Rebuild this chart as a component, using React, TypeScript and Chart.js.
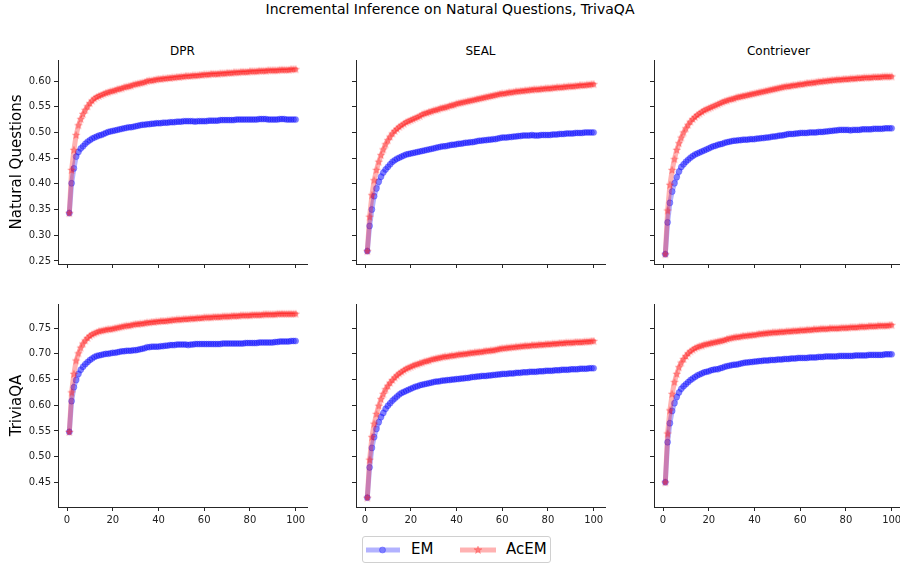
import React, { useEffect, useRef } from 'react';
import { Chart, registerables } from 'chart.js';

Chart.register(...registerables);

const FONT = "'DejaVu Sans', 'Liberation Sans', sans-serif";

const TITLE = 'Incremental Inference on Natural Questions, TrivaQA';
const ROW_LABELS = ['Natural Questions', 'TriviaQA'];
const COL_LABELS = ['DPR', 'SEAL', 'Contriever'];
const SERIES_LABELS = ['EM', 'AcEM'];

const STEPS = [
  1, 2, 3, 4, 5, 6, 7, 8, 9, 10,
  11, 12, 13, 14, 15, 16, 17, 18, 19, 20,
  21, 22, 23, 24, 25, 26, 27, 28, 29, 30,
  31, 32, 33, 34, 35, 36, 37, 38, 39, 40,
  41, 42, 43, 44, 45, 46, 47, 48, 49, 50,
  51, 52, 53, 54, 55, 56, 57, 58, 59, 60,
  61, 62, 63, 64, 65, 66, 67, 68, 69, 70,
  71, 72, 73, 74, 75, 76, 77, 78, 79, 80,
  81, 82, 83, 84, 85, 86, 87, 88, 89, 90,
  91, 92, 93, 94, 95, 96, 97, 98, 99, 100,
];

const X_TICKS = [0, 20, 40, 60, 80, 100];
const NQ_TICKS = [0.25, 0.3, 0.35, 0.4, 0.45, 0.5, 0.55, 0.6];
const TQ_TICKS = [0.45, 0.5, 0.55, 0.6, 0.65, 0.7, 0.75];

// ---- Natural Questions ----
const dprNqEM = [
  0.343, 0.401, 0.430, 0.453, 0.462, 0.469, 0.473, 0.478, 0.482, 0.485,
  0.488, 0.490, 0.492, 0.494, 0.495, 0.497, 0.499, 0.501, 0.502, 0.503,
  0.504, 0.505, 0.506, 0.507, 0.508, 0.509, 0.510, 0.510, 0.511, 0.512,
  0.513, 0.514, 0.515, 0.515, 0.516, 0.516, 0.517, 0.517, 0.518, 0.518,
  0.518, 0.519, 0.519, 0.519, 0.520, 0.520, 0.520, 0.521, 0.521, 0.521,
  0.522, 0.522, 0.522, 0.522, 0.522, 0.521, 0.522, 0.522, 0.522, 0.522,
  0.522, 0.523, 0.523, 0.523, 0.523, 0.523, 0.524, 0.524, 0.524, 0.524,
  0.524, 0.524, 0.524, 0.525, 0.525, 0.525, 0.525, 0.525, 0.525, 0.525,
  0.525, 0.525, 0.525, 0.526, 0.526, 0.526, 0.526, 0.525, 0.525, 0.525,
  0.525, 0.525, 0.526, 0.526, 0.526, 0.525, 0.525, 0.525, 0.525, 0.525,
];
const dprNqAcEM = [
  0.343, 0.427, 0.466, 0.495, 0.514, 0.526, 0.536, 0.544, 0.551, 0.557,
  0.562, 0.566, 0.569, 0.571, 0.573, 0.575, 0.577, 0.578, 0.580, 0.581,
  0.582, 0.584, 0.585, 0.586, 0.588, 0.589, 0.590, 0.591, 0.593, 0.594,
  0.595, 0.596, 0.597, 0.598, 0.600, 0.601, 0.601, 0.602, 0.603, 0.604,
  0.604, 0.605, 0.605, 0.606, 0.606, 0.607, 0.607, 0.608, 0.608, 0.609,
  0.609, 0.610, 0.610, 0.610, 0.611, 0.611, 0.611, 0.612, 0.612, 0.613,
  0.613, 0.613, 0.614, 0.614, 0.614, 0.614, 0.615, 0.615, 0.615, 0.616,
  0.616, 0.616, 0.617, 0.617, 0.617, 0.618, 0.618, 0.618, 0.618, 0.619,
  0.619, 0.619, 0.619, 0.620, 0.620, 0.620, 0.620, 0.621, 0.621, 0.621,
  0.621, 0.621, 0.622, 0.622, 0.622, 0.622, 0.622, 0.623, 0.623, 0.623,
];
const sealNqEM = [
  0.269, 0.318, 0.350, 0.376, 0.391, 0.404, 0.414, 0.422, 0.428, 0.433,
  0.438, 0.443, 0.446, 0.449, 0.451, 0.453, 0.455, 0.457, 0.458, 0.459,
  0.460, 0.461, 0.462, 0.463, 0.464, 0.465, 0.466, 0.467, 0.468, 0.469,
  0.470, 0.471, 0.472, 0.473, 0.473, 0.474, 0.475, 0.476, 0.476, 0.477,
  0.478, 0.478, 0.479, 0.480, 0.480, 0.481, 0.481, 0.482, 0.483, 0.484,
  0.484, 0.485, 0.485, 0.486, 0.486, 0.487, 0.487, 0.488, 0.489, 0.490,
  0.490, 0.490, 0.491, 0.491, 0.492, 0.492, 0.493, 0.493, 0.494, 0.494,
  0.494, 0.494, 0.495, 0.494, 0.494, 0.494, 0.495, 0.495, 0.495, 0.495,
  0.495, 0.496, 0.496, 0.496, 0.497, 0.497, 0.497, 0.498, 0.498, 0.498,
  0.498, 0.499, 0.499, 0.499, 0.499, 0.500, 0.500, 0.500, 0.500, 0.500,
];
const sealNqAcEM = [
  0.269, 0.336, 0.378, 0.407, 0.427, 0.443, 0.456, 0.467, 0.477, 0.485,
  0.492, 0.498, 0.503, 0.507, 0.511, 0.514, 0.517, 0.520, 0.522, 0.524,
  0.526, 0.528, 0.530, 0.532, 0.535, 0.537, 0.538, 0.540, 0.541, 0.543,
  0.544, 0.545, 0.547, 0.548, 0.549, 0.550, 0.552, 0.553, 0.554, 0.556,
  0.557, 0.558, 0.559, 0.560, 0.561, 0.562, 0.563, 0.564, 0.565, 0.566,
  0.567, 0.568, 0.569, 0.570, 0.571, 0.572, 0.573, 0.574, 0.575, 0.576,
  0.576, 0.577, 0.578, 0.578, 0.579, 0.580, 0.580, 0.581, 0.581, 0.582,
  0.582, 0.583, 0.583, 0.584, 0.584, 0.584, 0.585, 0.585, 0.586, 0.586,
  0.586, 0.587, 0.587, 0.588, 0.588, 0.588, 0.589, 0.589, 0.590, 0.590,
  0.590, 0.591, 0.591, 0.592, 0.592, 0.592, 0.593, 0.593, 0.594, 0.594,
];
const contrieverNqEM = [
  0.263, 0.325, 0.363, 0.385, 0.401, 0.413, 0.424, 0.433, 0.438, 0.443,
  0.447, 0.451, 0.454, 0.457, 0.459, 0.461, 0.463, 0.465, 0.467, 0.469,
  0.471, 0.473, 0.474, 0.476, 0.477, 0.478, 0.480, 0.481, 0.482, 0.483,
  0.484, 0.484, 0.485, 0.485, 0.486, 0.486, 0.486, 0.487, 0.487, 0.487,
  0.488, 0.488, 0.489, 0.489, 0.490, 0.490, 0.491, 0.492, 0.492, 0.493,
  0.494, 0.494, 0.495, 0.496, 0.497, 0.497, 0.497, 0.498, 0.498, 0.499,
  0.499, 0.499, 0.499, 0.500, 0.500, 0.500, 0.500, 0.501, 0.501, 0.501,
  0.502, 0.502, 0.503, 0.503, 0.504, 0.504, 0.505, 0.505, 0.505, 0.505,
  0.505, 0.504, 0.505, 0.505, 0.505, 0.505, 0.506, 0.506, 0.506, 0.506,
  0.506, 0.507, 0.507, 0.507, 0.507, 0.507, 0.508, 0.508, 0.508, 0.508,
];
const contrieverNqAcEM = [
  0.263, 0.348, 0.398, 0.427, 0.448, 0.466, 0.479, 0.490, 0.500, 0.508,
  0.515, 0.521, 0.526, 0.530, 0.534, 0.537, 0.540, 0.543, 0.545, 0.547,
  0.549, 0.551, 0.553, 0.555, 0.557, 0.559, 0.561, 0.562, 0.564, 0.565,
  0.566, 0.568, 0.569, 0.570, 0.571, 0.572, 0.573, 0.574, 0.575, 0.576,
  0.577, 0.578, 0.579, 0.580, 0.581, 0.582, 0.583, 0.584, 0.585, 0.586,
  0.587, 0.588, 0.589, 0.590, 0.590, 0.591, 0.592, 0.592, 0.593, 0.594,
  0.594, 0.595, 0.596, 0.596, 0.597, 0.597, 0.598, 0.599, 0.599, 0.600,
  0.600, 0.601, 0.601, 0.602, 0.602, 0.603, 0.603, 0.603, 0.604, 0.604,
  0.604, 0.605, 0.605, 0.605, 0.606, 0.606, 0.606, 0.607, 0.607, 0.607,
  0.607, 0.608, 0.608, 0.608, 0.608, 0.609, 0.609, 0.609, 0.609, 0.609,
];

// ---- TriviaQA ----
const dprTqEM = [
  0.548, 0.608, 0.635, 0.649, 0.661, 0.669, 0.675, 0.680, 0.684, 0.688,
  0.691, 0.694, 0.696, 0.697, 0.698, 0.699, 0.700, 0.700, 0.701, 0.702,
  0.702, 0.703, 0.704, 0.705, 0.705, 0.706, 0.706, 0.706, 0.707, 0.707,
  0.708, 0.709, 0.710, 0.711, 0.713, 0.713, 0.714, 0.714, 0.714, 0.714,
  0.715, 0.715, 0.716, 0.716, 0.717, 0.717, 0.717, 0.718, 0.718, 0.718,
  0.718, 0.718, 0.717, 0.718, 0.718, 0.719, 0.719, 0.719, 0.719, 0.719,
  0.719, 0.719, 0.719, 0.719, 0.719, 0.719, 0.719, 0.720, 0.720, 0.720,
  0.720, 0.720, 0.720, 0.720, 0.720, 0.720, 0.720, 0.721, 0.721, 0.721,
  0.721, 0.721, 0.721, 0.722, 0.722, 0.722, 0.722, 0.722, 0.722, 0.722,
  0.723, 0.723, 0.724, 0.724, 0.724, 0.724, 0.724, 0.725, 0.725, 0.725,
];
const dprTqAcEM = [
  0.548, 0.625, 0.661, 0.687, 0.701, 0.712, 0.720, 0.726, 0.731, 0.735,
  0.738, 0.740, 0.742, 0.744, 0.745, 0.746, 0.747, 0.748, 0.748, 0.749,
  0.750, 0.751, 0.752, 0.753, 0.754, 0.755, 0.755, 0.756, 0.757, 0.758,
  0.758, 0.759, 0.759, 0.760, 0.761, 0.761, 0.762, 0.762, 0.763, 0.763,
  0.764, 0.764, 0.764, 0.765, 0.765, 0.766, 0.766, 0.767, 0.767, 0.767,
  0.768, 0.768, 0.768, 0.769, 0.769, 0.769, 0.770, 0.770, 0.770, 0.771,
  0.771, 0.771, 0.771, 0.772, 0.772, 0.772, 0.772, 0.773, 0.773, 0.773,
  0.773, 0.774, 0.774, 0.774, 0.774, 0.775, 0.775, 0.775, 0.775, 0.775,
  0.776, 0.776, 0.776, 0.776, 0.776, 0.777, 0.777, 0.777, 0.777, 0.777,
  0.777, 0.778, 0.778, 0.778, 0.778, 0.778, 0.778, 0.778, 0.778, 0.778,
];
const sealTqEM = [
  0.420, 0.479, 0.517, 0.538, 0.554, 0.567, 0.577, 0.585, 0.593, 0.599,
  0.604, 0.609, 0.613, 0.617, 0.621, 0.624, 0.626, 0.628, 0.630, 0.632,
  0.634, 0.636, 0.637, 0.639, 0.640, 0.641, 0.642, 0.643, 0.644, 0.645,
  0.646, 0.646, 0.647, 0.648, 0.648, 0.649, 0.649, 0.650, 0.650, 0.651,
  0.651, 0.652, 0.652, 0.653, 0.653, 0.654, 0.655, 0.655, 0.656, 0.656,
  0.657, 0.657, 0.657, 0.658, 0.658, 0.659, 0.659, 0.660, 0.660, 0.661,
  0.661, 0.661, 0.662, 0.662, 0.662, 0.663, 0.663, 0.663, 0.664, 0.664,
  0.664, 0.665, 0.665, 0.665, 0.665, 0.666, 0.666, 0.666, 0.667, 0.667,
  0.667, 0.667, 0.668, 0.668, 0.668, 0.669, 0.669, 0.669, 0.669, 0.670,
  0.670, 0.670, 0.670, 0.671, 0.671, 0.671, 0.671, 0.672, 0.672, 0.672,
];
const sealTqAcEM = [
  0.420, 0.494, 0.538, 0.564, 0.583, 0.599, 0.612, 0.622, 0.631, 0.638,
  0.644, 0.649, 0.654, 0.658, 0.662, 0.665, 0.668, 0.671, 0.673, 0.675,
  0.677, 0.679, 0.680, 0.682, 0.683, 0.685, 0.686, 0.687, 0.689, 0.690,
  0.691, 0.692, 0.693, 0.694, 0.695, 0.695, 0.696, 0.697, 0.697, 0.698,
  0.699, 0.699, 0.700, 0.700, 0.701, 0.702, 0.702, 0.703, 0.703, 0.704,
  0.704, 0.705, 0.706, 0.706, 0.707, 0.707, 0.708, 0.709, 0.710, 0.711,
  0.711, 0.712, 0.712, 0.713, 0.713, 0.714, 0.714, 0.715, 0.715, 0.716,
  0.716, 0.716, 0.717, 0.717, 0.717, 0.718, 0.718, 0.718, 0.719, 0.719,
  0.719, 0.720, 0.720, 0.720, 0.721, 0.721, 0.721, 0.722, 0.722, 0.722,
  0.722, 0.723, 0.723, 0.723, 0.723, 0.724, 0.724, 0.724, 0.725, 0.725,
];
const contrieverTqEM = [
  0.450, 0.528, 0.565, 0.589, 0.604, 0.616, 0.625, 0.632, 0.637, 0.641,
  0.645, 0.649, 0.652, 0.655, 0.658, 0.660, 0.662, 0.664, 0.665, 0.666,
  0.668, 0.669, 0.670, 0.670, 0.672, 0.673, 0.675, 0.676, 0.677, 0.678,
  0.679, 0.679, 0.680, 0.681, 0.682, 0.683, 0.683, 0.684, 0.684, 0.685,
  0.685, 0.686, 0.686, 0.687, 0.687, 0.687, 0.688, 0.688, 0.688, 0.689,
  0.689, 0.689, 0.690, 0.690, 0.690, 0.691, 0.691, 0.691, 0.692, 0.692,
  0.692, 0.692, 0.692, 0.693, 0.693, 0.693, 0.693, 0.694, 0.694, 0.694,
  0.695, 0.695, 0.695, 0.695, 0.695, 0.695, 0.696, 0.696, 0.696, 0.696,
  0.696, 0.696, 0.696, 0.697, 0.697, 0.697, 0.697, 0.697, 0.697, 0.698,
  0.698, 0.698, 0.698, 0.698, 0.698, 0.698, 0.699, 0.699, 0.699, 0.699,
];
const contrieverTqAcEM = [
  0.450, 0.545, 0.590, 0.622, 0.645, 0.661, 0.674, 0.683, 0.690, 0.696,
  0.701, 0.705, 0.708, 0.711, 0.713, 0.715, 0.716, 0.718, 0.719, 0.720,
  0.721, 0.722, 0.723, 0.724, 0.725, 0.726, 0.727, 0.729, 0.730, 0.731,
  0.732, 0.733, 0.733, 0.734, 0.735, 0.735, 0.736, 0.736, 0.737, 0.737,
  0.738, 0.739, 0.739, 0.740, 0.740, 0.741, 0.741, 0.742, 0.742, 0.742,
  0.743, 0.743, 0.743, 0.744, 0.744, 0.744, 0.745, 0.745, 0.745, 0.746,
  0.746, 0.746, 0.747, 0.747, 0.747, 0.748, 0.748, 0.748, 0.749, 0.749,
  0.749, 0.749, 0.750, 0.750, 0.750, 0.750, 0.750, 0.751, 0.751, 0.751,
  0.751, 0.752, 0.752, 0.752, 0.752, 0.753, 0.753, 0.753, 0.753, 0.754,
  0.754, 0.754, 0.754, 0.755, 0.755, 0.755, 0.755, 0.755, 0.756, 0.756,
];

const PANELS = [
  [
    { em: dprNqEM, acem: dprNqAcEM },
    { em: sealNqEM, acem: sealNqAcEM },
    { em: contrieverNqEM, acem: contrieverNqAcEM },
  ],
  [
    { em: dprTqEM, acem: dprTqAcEM },
    { em: sealTqEM, acem: sealTqAcEM },
    { em: contrieverTqEM, acem: contrieverTqAcEM },
  ],
];

// ---- styling / layout ----
const BLUE_A = 'rgba(0,0,255,0.3)';
const RED_A = 'rgba(255,0,0,0.3)';
const AXIS_COLOR = '#262626';
const X_RANGE = [-3.95, 104.95];
const Y_RANGES = [
  [0.244, 0.641],
  [0.402, 0.797],
];
const Y_TICKS = [NQ_TICKS, TQ_TICKS];
const PLOT_LEFT = [58, 356, 654];
const PLOT_TOP = [60, 304];
const PLOT_W = 249;
const PLOT_H = [204, 203];
const PAD_TOP = 10;
const PAD_RIGHT = 12;
const X_AXIS_H = 22;

function makeStar(color: string): HTMLCanvasElement {
  const c = document.createElement('canvas');
  c.width = 10;
  c.height = 10;
  const ctx = c.getContext('2d')!;
  ctx.beginPath();
  for (let i = 0; i < 10; i++) {
    const r = i % 2 === 0 ? 4.0 : 1.6;
    const a = -Math.PI / 2 + (i * Math.PI) / 5;
    const px = 5 + r * Math.cos(a);
    const py = 5.3 + r * Math.sin(a);
    if (i === 0) ctx.moveTo(px, py);
    else ctx.lineTo(px, py);
  }
  ctx.closePath();
  ctx.fillStyle = color;
  ctx.fill();
  ctx.strokeStyle = color;
  ctx.lineWidth = 0.7;
  ctx.stroke();
  return c;
}

function Panel({ row, col }: { row: number; col: number }) {
  const ref = useRef<HTMLCanvasElement>(null);
  const yAxisW = col === 0 ? 58 : 20;
  const width = yAxisW + PLOT_W + PAD_RIGHT;
  const height = PAD_TOP + PLOT_H[row] + X_AXIS_H;
  const left = PLOT_LEFT[col] - yAxisW;
  const top = PLOT_TOP[row] - PAD_TOP;

  useEffect(() => {
    const canvas = ref.current!;
    const { em, acem } = PANELS[row][col];
    const star = makeStar(RED_A);
    const tickFont = { family: FONT, size: 10 };
    const chart = new Chart(canvas, {
      type: 'line',
      data: {
        datasets: [
          {
            label: SERIES_LABELS[0],
            order: 1,
            data: STEPS.map((s, i) => ({ x: s, y: em[i] })),
            borderColor: BLUE_A,
            borderWidth: 5,
            borderJoinStyle: 'round',
            borderCapStyle: 'round',
            pointStyle: 'circle',
            pointRadius: 3,
            pointBorderWidth: 1,
            pointBackgroundColor: BLUE_A,
            pointBorderColor: BLUE_A,
            tension: 0,
            fill: false,
          },
          {
            label: SERIES_LABELS[1],
            order: 0,
            data: STEPS.map((s, i) => ({ x: s, y: acem[i] })),
            borderColor: RED_A,
            borderWidth: 5,
            borderJoinStyle: 'round',
            borderCapStyle: 'round',
            pointStyle: star as any,
            pointRadius: 4,
            tension: 0,
            fill: false,
          },
        ],
      },
      options: {
        animation: false,
        responsive: false,
        maintainAspectRatio: false,
        events: [],
        layout: { padding: { top: PAD_TOP, right: PAD_RIGHT, left: 0, bottom: 0 } },
        plugins: {
          legend: { display: false },
          tooltip: { enabled: false },
          title: { display: false },
        },
        scales: {
          x: {
            type: 'linear',
            min: X_RANGE[0],
            max: X_RANGE[1],
            afterBuildTicks: (s: any) => {
              s.ticks = X_TICKS.map((v) => ({ value: v }));
            },
            afterFit: (s: any) => {
              s.height = X_AXIS_H;
            },
            grid: {
              display: true,
              drawOnChartArea: false,
              drawTicks: true,
              tickLength: 4,
              color: AXIS_COLOR,
              lineWidth: 1,
            },
            border: { display: true, color: AXIS_COLOR, width: 1 },
            ticks: {
              display: row === 1,
              font: tickFont,
              color: '#222',
              padding: 3,
              maxRotation: 0,
              autoSkip: false,
              callback: (v: any) => String(v),
            },
          },
          y: {
            type: 'linear',
            min: Y_RANGES[row][0],
            max: Y_RANGES[row][1],
            afterBuildTicks: (s: any) => {
              s.ticks = Y_TICKS[row].map((v) => ({ value: v }));
            },
            afterFit: (s: any) => {
              s.width = yAxisW;
            },
            grid: {
              display: true,
              drawOnChartArea: false,
              drawTicks: true,
              tickLength: 4,
              color: AXIS_COLOR,
              lineWidth: 1,
            },
            border: { display: true, color: AXIS_COLOR, width: 1 },
            ticks: {
              display: col === 0,
              font: tickFont,
              color: '#222',
              padding: 3,
              autoSkip: false,
              callback: (v: any) => Number(v).toFixed(2),
            },
            title: {
              display: col === 0,
              text: ROW_LABELS[row],
              font: { family: FONT, size: 15 },
              color: '#000',
              padding: { top: 8, bottom: 0 },
            },
          },
        },
      } as any,
    });
    return () => chart.destroy();
  }, [row, col]);

  return (
    <canvas
      ref={ref}
      width={width}
      height={height}
      style={{ position: 'absolute', left, top, width, height }}
    />
  );
}

function Legend() {
  return (
    <div
      style={{
        position: 'absolute',
        left: 362,
        top: 536,
        width: 189,
        height: 27,
        border: '1px solid #d0d0d0',
        borderRadius: 3,
        background: 'rgba(255,255,255,0.8)',
        boxSizing: 'border-box',
      }}
    >
      <svg width={189} height={27} style={{ position: 'absolute', left: -1, top: -1 }}>
        <line x1={4} y1={14} x2={38} y2={14} stroke={BLUE_A} strokeWidth={5} />
        <circle cx={20.5} cy={14} r={3} fill={BLUE_A} stroke={BLUE_A} strokeWidth={1} />
        <line x1={98} y1={14} x2={134} y2={14} stroke={RED_A} strokeWidth={5} />
        <polygon
          points="116,10 117,12.8 120,12.8 117.6,14.6 118.5,17.5 116,15.8 113.5,17.5 114.4,14.6 112,12.8 115,12.8"
          fill={RED_A}
          stroke={RED_A}
          strokeWidth={0.7}
        />
      </svg>
      <span
        style={{
          position: 'absolute',
          left: 48,
          top: 3,
          fontFamily: FONT,
          fontSize: 15,
          lineHeight: '18px',
          color: '#000',
          whiteSpace: 'nowrap',
        }}
      >
        {SERIES_LABELS[0]}
      </span>
      <span
        style={{
          position: 'absolute',
          left: 143,
          top: 3,
          fontFamily: FONT,
          fontSize: 15,
          lineHeight: '18px',
          color: '#000',
          whiteSpace: 'nowrap',
        }}
      >
        {SERIES_LABELS[1]}
      </span>
    </div>
  );
}

export default function App() {
  return (
    <div
      style={{
        position: 'absolute',
        left: 0,
        top: 0,
        width: 900,
        height: 566,
        overflow: 'hidden',
        background: '#fff',
        fontFamily: FONT,
      }}
    >
      <div
        style={{
          position: 'absolute',
          left: 0,
          top: 1,
          width: 900,
          textAlign: 'center',
          fontSize: 14,
          lineHeight: '16px',
          color: '#000',
        }}
      >
        {TITLE}
      </div>
      {COL_LABELS.map((label, c) => (
        <div
          key={label}
          style={{
            position: 'absolute',
            left: PLOT_LEFT[c],
            top: 44,
            width: PLOT_W,
            textAlign: 'center',
            fontSize: 12,
            lineHeight: '14px',
            color: '#000',
          }}
        >
          {label}
        </div>
      ))}
      {[0, 1].map((r) =>
        [0, 1, 2].map((c) => <Panel key={`${r}-${c}`} row={r} col={c} />)
      )}
      <Legend />
    </div>
  );
}
